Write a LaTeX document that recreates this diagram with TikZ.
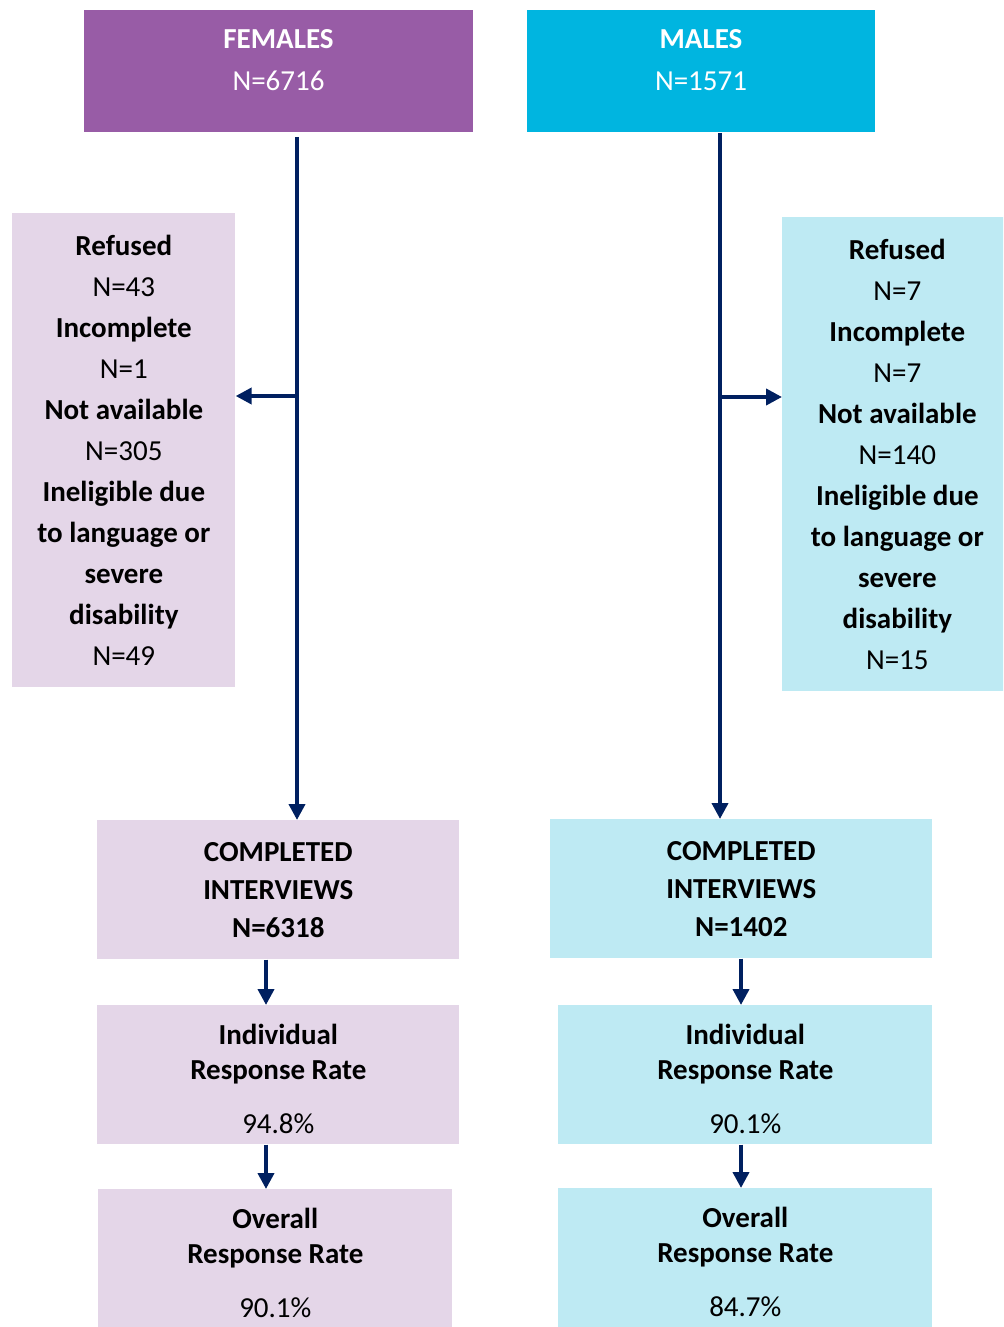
\documentclass[tikz,border=0pt]{standalone}
\usepackage{fontspec}
\setmainfont{Carlito}
\usetikzlibrary{arrows.meta}

\definecolor{femdark}{RGB}{152,92,166}
\definecolor{maledark}{RGB}{0,181,224}
\definecolor{femlight}{RGB}{228,214,232}
\definecolor{malelight}{RGB}{190,234,243}
\definecolor{navy}{RGB}{0,32,96}

% first line pushed down a little
\newcommand{\firstline}[1]{\raisebox{0pt}[\dimexpr\height+4.6pt][\depth]{\textbf{#1}}}

\tikzset{
  panel/.style={rectangle, inner sep=0pt, anchor=north west, align=center,
    font=\fontsize{16.5}{23.3}\selectfont},
  headtxt/.style={align=center, text=white, font=\fontsize{16.5}{23.8}\selectfont},
  flow/.style={draw=navy, line width=2.2pt, -{Triangle[length=0.32cm,width=0.32cm]}},
}

\begin{document}
\begin{tikzpicture}[x=0.02cm, y=-0.02cm]
        \useasboundingbox (0,0) rectangle (1003,1327);
        \clip (0,0) rectangle (1003,1327);

        % top boxes
        \node[panel, fill=femdark, minimum width=7.78cm, minimum height=2.44cm] (fem) at (84,10) {};
        \node[headtxt] (femtxt) at (278.5,60) {\textbf{FEMALES}\\N=6716};
        \node[panel, fill=maledark, minimum width=6.96cm, minimum height=2.44cm] (male) at (527,10) {};
        \node[headtxt] (maletxt) at (701,60) {\textbf{MALES}\\N=1571};

        % excluded
        \begin{scope}[every node/.style={panel, minimum height=9.48cm}]
          \node[fill=femlight, minimum width=4.46cm] (fside) at (12,213)
            {\textbf{Refused}\\N=43\\\textbf{Incomplete}\\N=1\\\textbf{Not available}\\N=305\\
             \textbf{Ineligible due}\\\textbf{to language or}\\\textbf{severe}\\\textbf{disability}\\N=49};
          \node[fill=malelight, minimum width=4.6cm] (mside) at (782,217)
            {\textbf{Refused}\\N=7\\\textbf{Incomplete}\\N=7\\\textbf{Not available}\\N=140\\
             \textbf{Ineligible due}\\\textbf{to language or}\\\textbf{severe}\\\textbf{disability}\\N=15};
        \end{scope}

        % completed and rates
        \begin{scope}[every node/.style={panel, minimum height=2.78cm}]
          \node[fill=femlight, minimum width=7.24cm, font=\fontsize{16.5}{21.6}\selectfont\bfseries] (fcomp) at (97,820)
            {COMPLETED\\INTERVIEWS\\N=6318};
          \node[fill=malelight, minimum width=7.64cm, font=\fontsize{16.5}{21.6}\selectfont\bfseries] (mcomp) at (550,819)
            {COMPLETED\\INTERVIEWS\\N=1402};
          \node[fill=femlight, minimum width=7.24cm, font=\fontsize{16.5}{20.4}\selectfont] (find) at (97,1005)
            {\firstline{Individual}\\\textbf{Response Rate}\\[10.3pt]94.8\%};
          \node[fill=malelight, minimum width=7.48cm, font=\fontsize{16.5}{20.4}\selectfont] (mind) at (558,1005)
            {\firstline{Individual}\\\textbf{Response Rate}\\[10.3pt]90.1\%};
          \node[fill=femlight, minimum width=7.08cm, font=\fontsize{16.5}{20.4}\selectfont] (fover) at (98,1189)
            {\firstline{Overall}\\\textbf{Response Rate}\\[10.3pt]90.1\%};
          \node[fill=malelight, minimum width=7.48cm, font=\fontsize{16.5}{20.4}\selectfont] (mover) at (558,1188)
            {\firstline{Overall}\\\textbf{Response Rate}\\[10.3pt]84.7\%};
        \end{scope}

        \coordinate (ftop) at (297,137);
        \coordinate (fbr) at (297,396);
        \coordinate (mtop) at (720,133);
        \coordinate (mbr) at (720,397);
        \coordinate (fa) at (266,0);
        \coordinate (ma) at (741,0);

        \draw[flow] (ftop) -- (ftop |- fcomp.north);
        \draw[flow] (fbr) -- (fbr -| fside.east);
        \draw[flow] (mtop) -- (mtop |- mcomp.north);
        \draw[flow] (mbr) -- (mbr -| mside.west);

        \draw[flow] (fa |- fcomp.south) -- (fa |- find.north);
        \draw[flow] (fa |- find.south) -- (fa |- fover.north);
        \draw[flow] (ma |- mcomp.south) -- (ma |- mind.north);
        \draw[flow] (ma |- mind.south) -- (ma |- mover.north);

      \end{tikzpicture}
\end{document}
